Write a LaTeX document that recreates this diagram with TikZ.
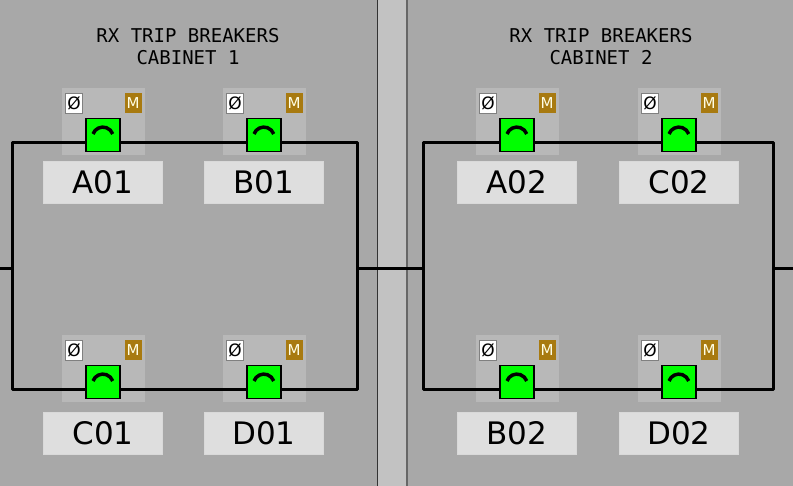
\documentclass[tikz,border=0pt]{standalone}
\usepackage{fontspec}
\setmainfont{DejaVu Sans}
\newfontfamily\monof{DejaVu Sans Mono}
\definecolor{bg}{HTML}{A8A8A8}
\definecolor{strip}{HTML}{C2C2C2}
\definecolor{pad}{HTML}{B8B8B8}
\definecolor{btn}{HTML}{DEDEDE}
\definecolor{mcol}{HTML}{A87A10}
\definecolor{grn}{HTML}{00FF00}
\tikzset{
 bus/.style={line width=3pt,line join=round},
 btnbox/.style={draw=white!70!gray,fill=btn,minimum width=119pt,minimum height=42pt,inner sep=0pt,font=\fontsize{31}{31}\selectfont},
 ttl/.style={font=\monof\fontsize{19}{22}\selectfont,align=center}
}
\newcommand\padd[2]{\fill[pad] (#1-41,#2-55) rectangle (#1+42,#2+12);}
\newcommand\brk[4]{% x, liney, label y, name
 \node[draw=gray,fill=white,minimum width=17pt,minimum height=20pt,inner sep=0pt,font=\fontsize{17}{17}\selectfont] (#4z) at (#1-29,#2-40) {\O};
 \node[fill=mcol,text=white!90!yellow,minimum width=17pt,minimum height=20pt,inner sep=0pt,font=\fontsize{15}{15}\selectfont] (#4m) at (#1+30,#2-40) {M};
 \node[draw=black,line width=1.2pt,fill=grn,minimum width=34pt,minimum height=33pt,inner sep=0pt] (#4g) at (#1,#2-8) {};
 \draw[line width=3.5pt] (#1-10,#2-9) arc[start angle=160,end angle=20,radius=10.5pt];
 \node[btnbox] (#4) at (#1,#3) {#4};
}
\begin{document}
\begin{tikzpicture}[x=1pt,y=-1pt]
\useasboundingbox (0,0) rectangle (793,486);
\fill[bg] (0,0) rectangle (793,486);
\fill[strip] (377,0) rectangle (407,486);
\draw[black!80,line width=1pt] (377,0) -- (377,486);
\draw[black!60,line width=1.5pt] (407,0) -- (407,486);
\node[ttl] (t1) at (188,47) {RX TRIP BREAKERS\\CABINET 1};
\node[ttl] (t2) at (601,47) {RX TRIP BREAKERS\\CABINET 2};
\padd{103}{143}\padd{264}{143}\padd{103}{390}\padd{264}{390}
\padd{517}{143}\padd{679}{143}\padd{517}{390}\padd{679}{390}
\draw[bus] (12,143) rectangle (357,390);
\draw[bus] (423,143) rectangle (773,390);
\coordinate (l0) at (0,269); \coordinate (l1) at (12,269);
\coordinate (m1) at (357,269); \coordinate (m2) at (423,269);
\coordinate (r1) at (773,269); \coordinate (r0) at (793,269);
\draw[bus] (l0) -- (l1); \draw[bus] (m1) -- (m2); \draw[bus] (r1) -- (r0);
\brk{103}{143}{182}{A01}
\brk{264}{143}{182}{B01}
\brk{103}{390}{433}{C01}
\brk{264}{390}{433}{D01}
\brk{517}{143}{182}{A02}
\brk{679}{143}{182}{C02}
\brk{517}{390}{433}{B02}
\brk{679}{390}{433}{D02}
\end{tikzpicture}
\end{document}
